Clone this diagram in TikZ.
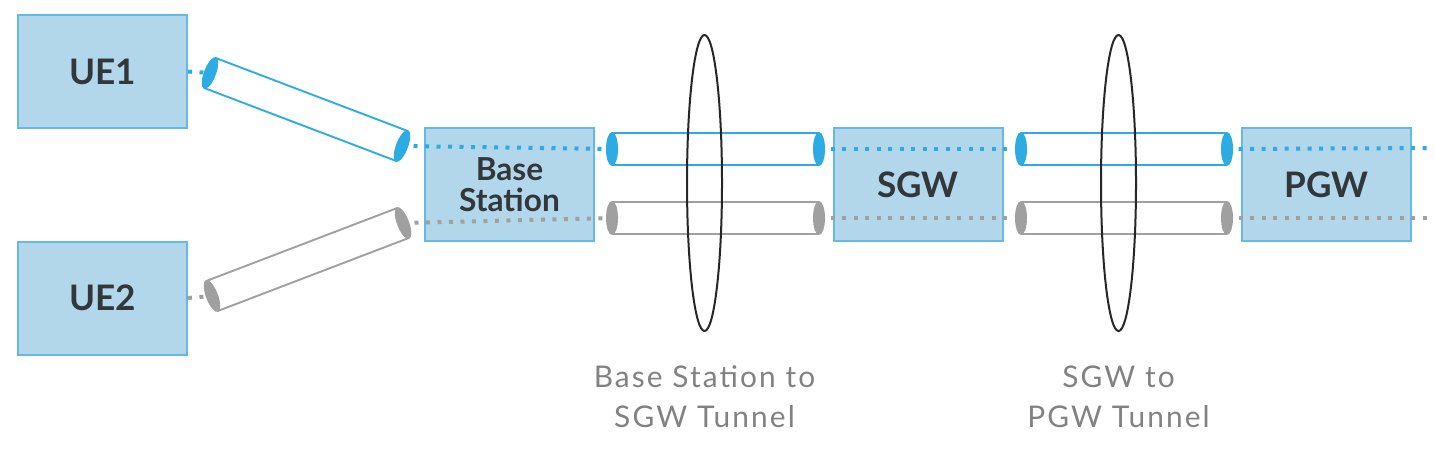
\documentclass[tikz,border=0pt]{standalone}
\usepackage{fontspec}
\setmainfont{Lato}
\newfontfamily\labelfont[LetterSpace=7]{Lato}
\usepackage{xcolor}
\definecolor{boxfill}{RGB}{179, 215, 234}
\definecolor{boxline}{RGB}{100, 186, 228}
\definecolor{boxtext}{RGB}{50, 55, 60}
\definecolor{tunnelblue}{RGB}{45, 172, 228}
\definecolor{tunnelgray}{RGB}{160, 160, 160}
\definecolor{labelgray}{RGB}{130, 130, 130}
\usetikzlibrary{positioning, shapes.geometric}

\begin{document}
\begin{tikzpicture}[x=0.2mm, y=-0.2mm,
    netbox/.style={draw=boxline, fill=boxfill, line width=0.4mm, minimum width=33.8mm, minimum height=22.6mm, inner sep=0pt, text=boxtext, font=\fontsize{20}{20}\selectfont\bfseries},
    dotline/.style={line width=0.8mm, dash pattern=on 0.8mm off 1.5mm},
    tube/.style={double=white, double distance=6mm, line width=0.4mm},
    tubecap/.style={sloped, ellipse, fill, inner sep=0pt, minimum width=2.4mm, minimum height=6.8mm},
    ring/.style={draw=black!85, ellipse, line width=0.4mm, minimum width=7mm, minimum height=59.2mm, inner sep=0pt},
    tunlabel/.style={align=center, inner sep=0pt, text=labelgray, font=\labelfont\fontsize{17}{22.8}\selectfont}]
    \useasboundingbox (0,0) rectangle (1434,462);

    % boxes
    \node[netbox] (ue1) at (102.5, 71.5) {UE1};
    \node[netbox] (ue2) at (102.5, 298) {UE2};
    \node[netbox, align=center, font=\fontsize{18}{17.6}\selectfont\bfseries] (bs) at (509.5, 184.5) {Base\\Station};
    \node[netbox] (sgw) at (918, 184.5) {SGW};
    \node[netbox] (pgw) at (1326.5, 184.5) {PGW};

    % tube ends
    \coordinate (b1a) at (210, 73);
    \coordinate (b1b) at (402, 146);
    \coordinate (b2a) at (612, 149);
    \coordinate (b2b) at (819, 149);
    \coordinate (b3a) at (1021, 149);
    \coordinate (b3b) at (1227, 149);
    \coordinate (bend) at (1430, 148);
    \coordinate (g1a) at (212, 296);
    \coordinate (g1b) at (403, 223);
    \coordinate (g2a) at (612, 218);
    \coordinate (g2b) at (819, 218);
    \coordinate (g3a) at (1021, 218);
    \coordinate (g3b) at (1227, 218);
    \coordinate (gend) at (1430, 218);

    % dotted flows
    \draw[dotline, tunnelblue] (ue1.east) -- (b1a);
    \draw[dotline, tunnelblue] (b1b) -- (b2a);
    \draw[dotline, tunnelblue] (b2b) -- (b3a);
    \draw[dotline, tunnelblue] (b3b) -- (bend);
    \draw[dotline, tunnelgray] (ue2.east) -- (g1a);
    \draw[dotline, tunnelgray] (g1b) -- (g2a);
    \draw[dotline, tunnelgray] (g2b) -- (g3a);
    \draw[dotline, tunnelgray] (g3b) -- (gend);

    % tunnels
    \draw[tube, tunnelblue] (b1a) -- (b1b) node[tubecap, pos=0] {} node[tubecap, pos=1] {};
    \draw[tube, tunnelblue] (b2a) -- (b2b) node[tubecap, pos=0] {} node[tubecap, pos=1] {};
    \draw[tube, tunnelblue] (b3a) -- (b3b) node[tubecap, pos=0] {} node[tubecap, pos=1] {};
    \draw[tube, tunnelgray] (g1a) -- (g1b) node[tubecap, pos=0] {} node[tubecap, pos=1] {};
    \draw[tube, tunnelgray] (g2a) -- (g2b) node[tubecap, pos=0] {} node[tubecap, pos=1] {};
    \draw[tube, tunnelgray] (g3a) -- (g3b) node[tubecap, pos=0] {} node[tubecap, pos=1] {};

    % tunnel groups
    \node[ring] (ring1) at (704.5, 183) {};
    \node[ring] (ring2) at (1118.5, 183) {};
    \node[tunlabel, below=6.6mm of ring1] (lab1) {Base Station to\\SGW Tunnel};
    \node[tunlabel, below=6.6mm of ring2] (lab2) {SGW to\\PGW Tunnel};
\end{tikzpicture}
\end{document}
